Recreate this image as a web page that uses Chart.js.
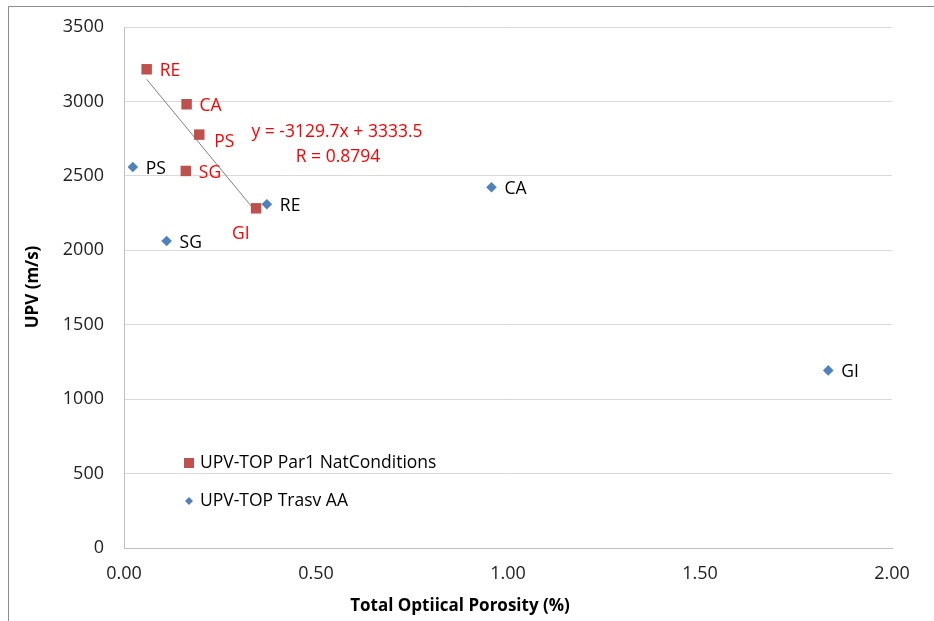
<!DOCTYPE html>
<html>
<head>
<meta charset="utf-8">
<script src="https://cdn.jsdelivr.net/npm/chart.js@4.4.1/dist/chart.umd.min.js"></script>
<style>
  body { margin: 0; background: #fff; }
  #wrap { width: 934px; height: 621px; position: relative; }
</style>
</head>
<body>
<div id="wrap"><canvas id="upvChart" width="934" height="621"></canvas></div>
<script>
// UPV vs optical porosity
const natNames = ['RE', 'CA', 'PS', 'SG', 'GI'];
const natPorosity = [0.059, 0.163, 0.196, 0.161, 0.344];
const natUpv = [3216, 2981, 2777, 2533, 2282];

const trasvNames = ['PS', 'RE', 'SG', 'CA', 'GI'];
const trasvPorosity = [0.023, 0.372, 0.111, 0.957, 1.834];
const trasvUpv = [2560, 2309, 2062, 2423, 1193];

const trendSlope = -3129.7;
const trendIntercept = 3333.5;
const trendR = 0.8794;

const xTickValues = [0, 0.5, 1, 1.5, 2];
const yTickValues = [0, 500, 1000, 1500, 2000, 2500, 3000, 3500];

const natLabel = 'UPV-TOP Par1 NatConditions';
const trasvLabel = 'UPV-TOP Trasv AA';
const xTitle = 'Total Optiical Porosity (%)';
const yTitle = 'UPV (m/s)';

const RED = '#c0504d';
const BLUE = '#4f81bd';
const FONT = '"Open Sans", sans-serif';

const toPoints = (xs, ys) => xs.map((x, i) => ({ x: x, y: ys[i] }));

// trendline over the range of the red series
const trendX = [Math.min(...natPorosity), Math.max(...natPorosity)];
const trendPoints = trendX.map(x => ({ x: x, y: trendSlope * x + trendIntercept }));

// a couple of labels sit away from the default right-hand spot
const labelShift = { 'nat-PS': [2, 5], 'nat-GI': [-37, 24] };

const decorPlugin = {
    id: 'decor',
    afterDatasetsDraw(chart) {
        const ctx = chart.ctx;
        const xs = chart.scales.x;
        const ys = chart.scales.y;
        ctx.save();

        // point labels
        ctx.font = '17.5px ' + FONT;
        ctx.textAlign = 'left';
        ctx.textBaseline = 'middle';
        natNames.forEach((name, i) => {
            const sh = labelShift['nat-' + name] || [0, 0];
            ctx.fillStyle = '#ff0000';
            ctx.fillText(name, xs.getPixelForValue(natPorosity[i]) + 13 + sh[0], ys.getPixelForValue(natUpv[i]) + 2 + sh[1]);
        });
        trasvNames.forEach((name, i) => {
            ctx.fillStyle = '#000';
            ctx.fillText(name, xs.getPixelForValue(trasvPorosity[i]) + 13, ys.getPixelForValue(trasvUpv[i]) + 2);
        });

        // trendline equation
        ctx.fillStyle = '#ff0000';
        ctx.textAlign = 'center';
        ctx.fillText('y = ' + trendSlope + 'x + ' + trendIntercept, 337, 132);
        ctx.fillText('R = ' + trendR, 338, 157);

        // legend inside plot
        ctx.fillStyle = RED;
        ctx.fillRect(184, 458, 10, 10);
        ctx.fillStyle = BLUE;
        ctx.beginPath();
        ctx.moveTo(189, 497); ctx.lineTo(193, 501); ctx.lineTo(189, 505); ctx.lineTo(185, 501);
        ctx.closePath();
        ctx.fill();
        ctx.fillStyle = '#000';
        ctx.textAlign = 'left';
        ctx.fillText(natLabel, 200, 463);
        ctx.fillText(trasvLabel, 200, 501);

        // axis titles
        ctx.font = 'bold 17px ' + FONT;
        ctx.textAlign = 'center';
        ctx.fillText(xTitle, 460, 606);
        ctx.translate(33, 287);
        ctx.rotate(-Math.PI / 2);
        ctx.fillText(yTitle, 0, 0);
        ctx.restore();

        // chart area frame (top and left edges visible)
        ctx.save();
        ctx.strokeStyle = '#8c8c8c';
        ctx.lineWidth = 1;
        ctx.beginPath();
        ctx.moveTo(8.5, 621);
        ctx.lineTo(8.5, 6.5);
        ctx.lineTo(934, 6.5);
        ctx.stroke();
        ctx.restore();
    }
};

new Chart(document.getElementById('upvChart'), {
    type: 'scatter',
    data: {
        datasets: [
            {
                label: 'trend',
                data: trendPoints,
                showLine: true,
                borderColor: '#7f7f7f',
                borderWidth: 1,
                pointRadius: 0,
                order: 3
            },
            {
                label: natLabel,
                data: toPoints(natPorosity, natUpv),
                pointStyle: 'rect',
                pointRadius: 7.4,
                backgroundColor: RED,
                borderColor: RED,
                borderWidth: 0,
                order: 2
            },
            {
                label: trasvLabel,
                data: toPoints(trasvPorosity, trasvUpv),
                pointStyle: 'rectRot',
                pointRadius: 5.3,
                backgroundColor: BLUE,
                borderColor: BLUE,
                borderWidth: 0,
                order: 1
            }
        ]
    },
    options: {
        responsive: false,
        animation: false,
        layout: { padding: { top: 27, right: 42, left: 0, bottom: 0 } },
        plugins: {
            legend: { display: false },
            tooltip: { enabled: false }
        },
        scales: {
            x: {
                type: 'linear',
                min: xTickValues[0],
                max: xTickValues[xTickValues.length - 1],
                afterBuildTicks: s => { s.ticks = xTickValues.map(v => ({ value: v })); },
                afterFit: s => { s.height = 73; s.paddingLeft = 0; s.paddingRight = 0; },
                grid: { display: false, drawTicks: false },
                border: { display: true, color: '#bfbfbf' },
                ticks: {
                    padding: 15,
                    color: '#222',
                    font: { family: FONT, size: 18 },
                    callback: v => Number(v).toFixed(2)
                }
            },
            y: {
                type: 'linear',
                min: yTickValues[0],
                max: yTickValues[yTickValues.length - 1],
                afterBuildTicks: s => { s.ticks = yTickValues.map(v => ({ value: v })); },
                afterFit: s => { s.width = 124; s.paddingTop = 0; s.paddingBottom = 0; },
                grid: { color: '#d9d9d9', drawTicks: false },
                border: { display: true, color: '#bfbfbf' },
                ticks: {
                    padding: 20,
                    color: '#222',
                    font: { family: FONT, size: 18 },
                    callback: v => String(v)
                }
            }
        }
    },
    plugins: [decorPlugin]
});
</script>
</body>
</html>
